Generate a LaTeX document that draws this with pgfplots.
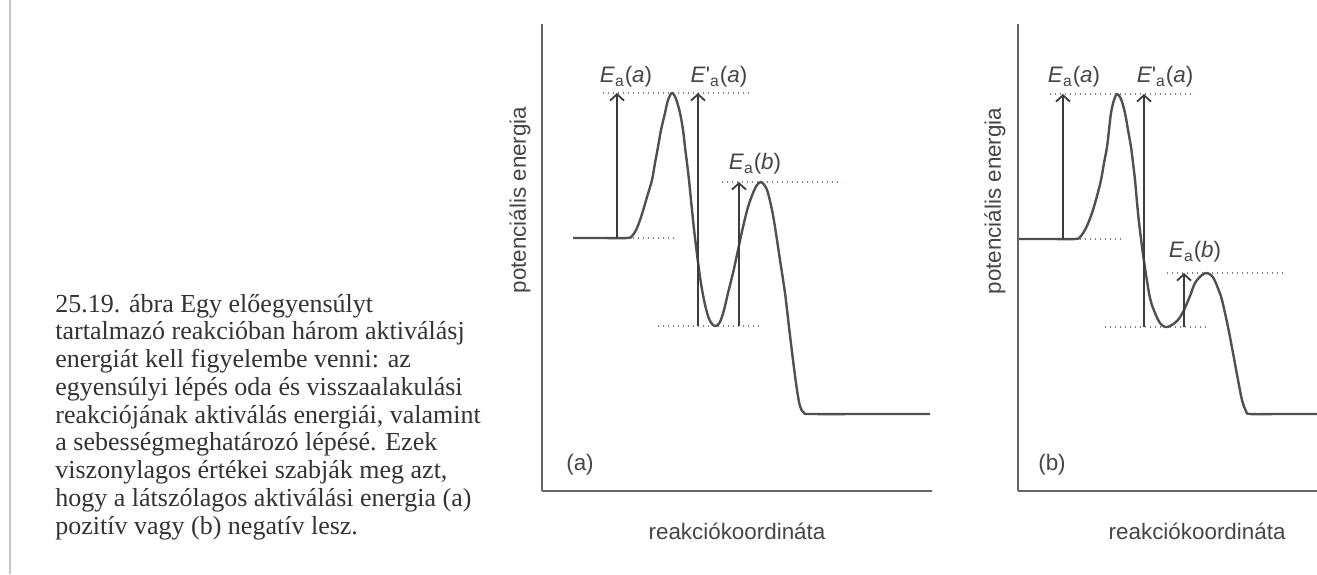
\documentclass[border=0pt]{standalone}
\usepackage{pgfplots}
\pgfplotsset{compat=1.18}
\usepackage{fontspec}
\setmainfont{Liberation Sans}
\newfontfamily\capfont{Liberation Serif}
\usetikzlibrary{arrows.meta}
\definecolor{curvecol}{HTML}{505050}
\definecolor{arrcol}{HTML}{3C3C3C}
\definecolor{dotcol}{HTML}{808080}
\definecolor{axiscol}{HTML}{666666}
\definecolor{textcol}{HTML}{454545}
\definecolor{captext}{HTML}{333333}
\newcommand{\Ea}[1]{\textit{E}\textsubscript{a}(\textit{#1})}
\newcommand{\Epa}[1]{\textit{E}\textquotesingle\textsubscript{a}(\textit{#1})}
\pgfplotsset{
  rxn/.style={
    scale only axis, axis lines=left,
    axis line style={-, draw=axiscol, line width=0.8pt},
    xtick=\empty, ytick=\empty, ymin=0, ymax=467, clip=false,
    height=233.5pt,
    label style={font=\fontsize{11.2}{13}\selectfont, text=textcol},
  },
  curve/.style={draw=curvecol, line width=1.2pt, smooth, tension=0.55, mark=none, line join=round},
  arr/.style={draw=arrcol, line width=0.6pt, mark=none, -{Straight Barb[length=3.2pt,width=7pt,line width=0.9pt]}},
  dotl/.style={draw=dotcol, line width=0.6pt, mark=none, dash pattern=on 0.6pt off 1.9pt},
}
\tikzset{lab/.style={font=\fontsize{11.2}{13}\selectfont, text=textcol, inner sep=0pt}}
\begin{document}
\begin{tikzpicture}
\fill[white] (0,0) rectangle (658.5pt,287pt);
% page edge of the scan
\draw[gray!45, line width=1pt] (5pt,0) -- (5pt,287pt);
% caption
\begin{scope}[every node/.style={anchor=base west, inner sep=0pt, text=captext, font=\capfont\fontsize{13}{14}\selectfont}]
\node at (27.5pt,131pt) {25.19. ábra Egy előegyensúlyt};
\node at (27.5pt,117.1pt) {tartalmazó reakcióban három aktiválásj};
\node at (27.5pt,103.25pt) {energiát kell figyelembe venni: az};
\node at (27.5pt,89.4pt) {egyensúlyi lépés oda és visszaalakulási};
\node at (27.5pt,75.5pt) {reakciójának aktiválás energiái, valamint};
\node at (27.5pt,61.6pt) {a sebességmeghatározó lépésé. Ezek};
\node at (27.5pt,47.75pt) {viszonylagos értékei szabják meg azt,};
\node at (27.5pt,33.9pt) {hogy a látszólagos aktiválási energia (a)};
\node at (27.5pt,20pt) {pozitív vagy (b) negatív lesz.};
\end{scope}
% panel (a)
\begin{axis}[rxn, at={(271pt,41.5pt)}, anchor=south west, width=195pt,
  xmin=0, xmax=390,
  xlabel={reakciókoordináta}, ylabel={potenciális energia},
  xlabel style={at={(axis description cs:0.5,-0.0857)}, anchor=center},
  ylabel style={at={(axis description cs:-0.0564,0.623)}, anchor=center}]
\addplot[dotl] coordinates {(61,398) (208,398)};
\addplot[dotl] coordinates {(91,253) (136,253)};
\addplot[dotl] coordinates {(116,165) (220,165)};
\addplot[dotl] coordinates {(180,309) (300,309)};
\addplot[curve] coordinates {
(31,253) (58,253) (85,253) (90,255) (95,263) (100,277) (105,294) (110,311)
(113,328) (116,344) (119,361) (123,378) (126,391) (130,398) (134,392) (138,378)
(141,361) (143,344) (145,328) (147,311) (150,281) (153,253) (158,214) (162,191)
(166,175) (170,167) (174,165) (178,169) (182,181) (186,198) (191,218) (196,241)
(201,264) (206,284) (211,298) (215,306) (219,309) (223,305) (226,298) (230,281)
(233,264) (238,231) (243,198) (247,164) (251,131) (255,101) (258,85) (262,78)
(270,77) (330,77) (388,77)};
\addplot[arr] coordinates {(75,253) (75,398)};
\addplot[arr] coordinates {(156,165) (156,398)};
\addplot[arr] coordinates {(197,165) (197,309)};
\node[lab] at (axis cs:84,414) {\Ea{a}};
\node[lab] at (axis cs:177,414) {\Epa{a}};
\node[lab] at (axis cs:213,327) {\Ea{b}};
\node[lab] at (axis cs:38,26) {(a)};
\end{axis}
% panel (b)
\begin{axis}[rxn, at={(509pt,41.5pt)}, anchor=south west, width=149.5pt,
  xmin=0, xmax=299,
  xlabel={reakciókoordináta}, ylabel={potenciális energia},
  xlabel style={at={(axis description cs:0.599,-0.0857)}, anchor=center},
  ylabel style={at={(axis description cs:-0.077,0.621)}, anchor=center}]
\addplot[dotl] coordinates {(32,397) (177,397)};
\addplot[dotl] coordinates {(62,252) (106,252)};
\addplot[dotl] coordinates {(87,164) (190,164)};
\addplot[dotl] coordinates {(149,218) (267,218)};
\addplot[curve] coordinates {
(1,252) (32,252) (57,252) (62,254) (68,263) (74,278) (79,295) (83,311)
(86,328) (89,344) (91,361) (93,378) (96,391) (99,397) (103,392) (107,378)
(110,361) (113,344) (115,328) (117,311) (120,278) (123,252) (127,223) (132,193)
(137,178) (142,168) (147,164) (152,165) (159,170) (165,179) (172,195) (177,208)
(184,216) (189,218) (194,215) (197,210) (201,200) (204,191) (210,164) (215,138)
(220,111) (224,91) (228,80) (232,77) (260,77) (299,77)};
\addplot[arr] coordinates {(45,252) (45,397)};
\addplot[arr] coordinates {(126,164) (126,397)};
\addplot[arr] coordinates {(166,164) (166,218)};
\node[lab] at (axis cs:56,414) {\Ea{a}};
\node[lab] at (axis cs:147,414) {\Epa{a}};
\node[lab] at (axis cs:177,239) {\Ea{b}};
\node[lab] at (axis cs:34,26) {(b)};
\end{axis}
\pgfresetboundingbox
\path (0,0) rectangle (658.5pt,287pt);
\end{tikzpicture}
\end{document}
